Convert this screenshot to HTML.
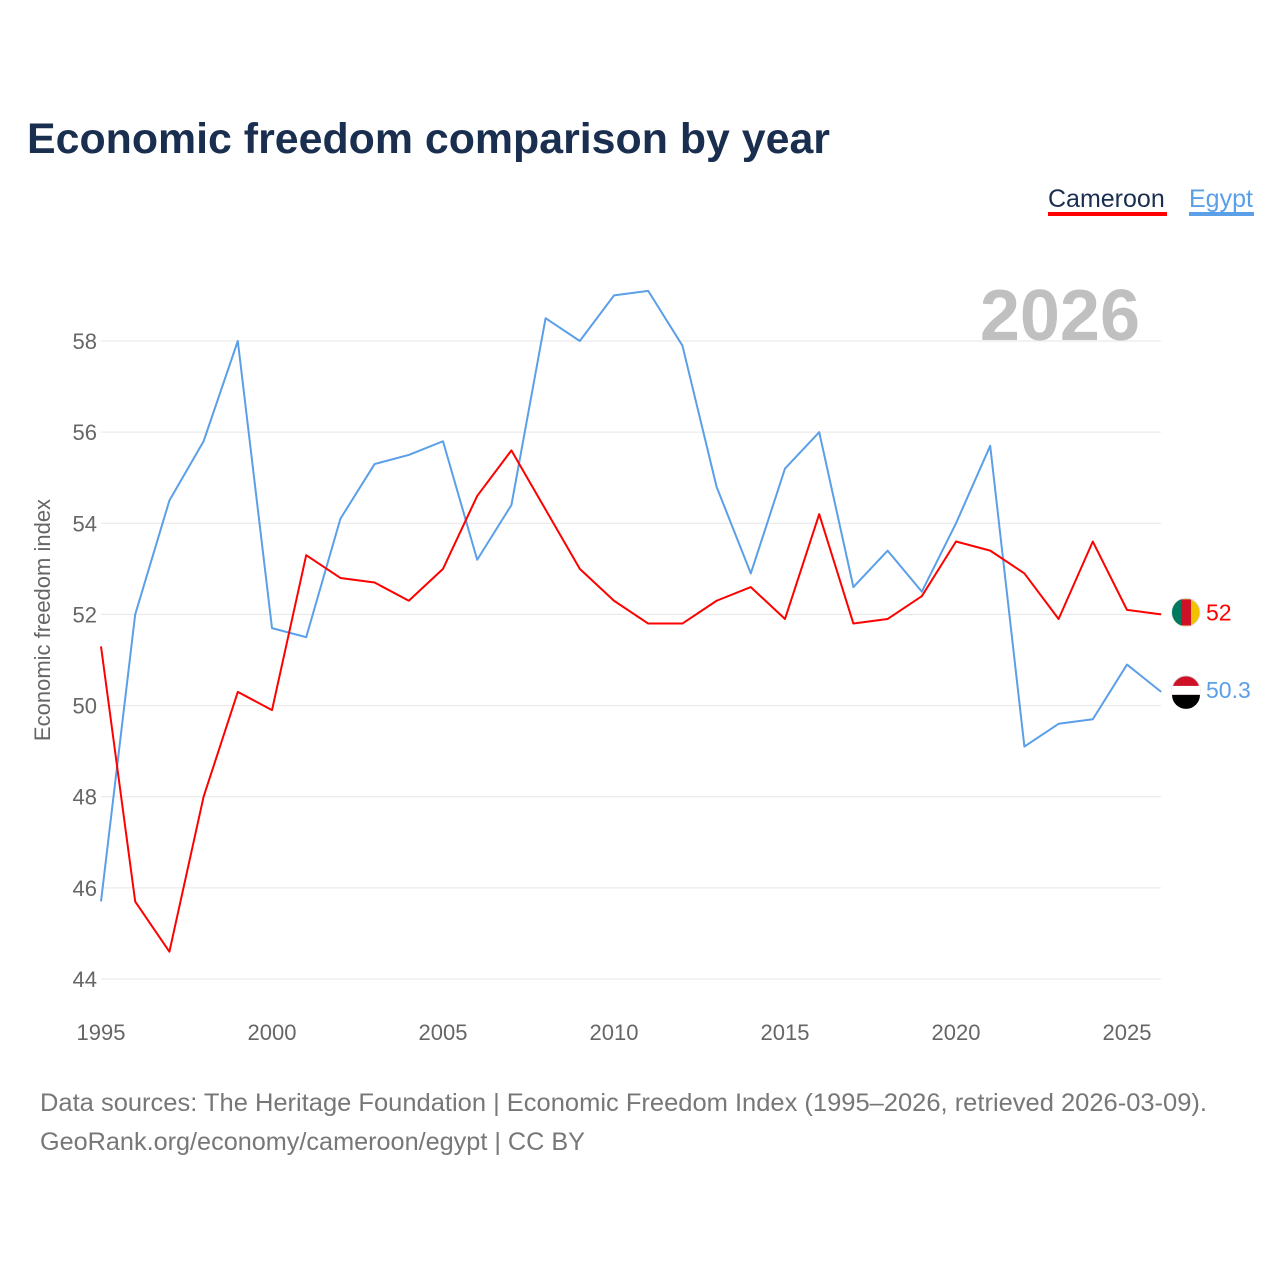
<!DOCTYPE html>
<html><head><meta charset="utf-8">
<style>
body{margin:0;background:#fff;width:1280px;height:1280px;overflow:hidden;font-family:"Liberation Sans",sans-serif;}
</style></head>
<body>
<svg id="chart" width="1280" height="1280" xmlns="http://www.w3.org/2000/svg">
<text x="27" y="153" font-size="43" font-weight="bold" fill="#1a2e4f" textLength="803" lengthAdjust="spacingAndGlyphs">Economic freedom comparison by year</text>
<g>
<text x="1048" y="207" font-size="25" fill="#1a2e4f">Cameroon</text>
<rect x="1048" y="212" width="119" height="4" fill="#ff0000"></rect>
<text x="1189" y="207" font-size="25" fill="#5a9fe8">Egypt</text>
<rect x="1189" y="212" width="65" height="4" fill="#5a9fe8"></rect>
</g>
<text x="1140" y="340" font-size="72" font-weight="bold" fill="#c0c0c0" text-anchor="end">2026</text>
<text transform="translate(50,620) rotate(-90)" font-size="22" fill="#666" text-anchor="middle">Economic freedom index</text>
<g id="grid"></g><g id="xt"></g><g id="lines"></g>
<text x="40" y="1111" font-size="25" fill="#777" textLength="1167" lengthAdjust="spacingAndGlyphs">Data sources: The Heritage Foundation | Economic Freedom Index (1995–2026, retrieved 2026-03-09).</text>
<text x="40" y="1150" font-size="25" fill="#777" textLength="545" lengthAdjust="spacingAndGlyphs">GeoRank.org/economy/cameroon/egypt | CC BY</text>
</svg>
<script>
const years=[1995,1996,1997,1998,1999,2000,2001,2002,2003,2004,2005,2006,2007,2008,2009,2010,2011,2012,2013,2014,2015,2016,2017,2018,2019,2020,2021,2022,2023,2024,2025,2026];
const cameroon=[51.3,45.7,44.6,48.0,50.3,49.9,53.3,52.8,52.7,52.3,53.0,54.6,55.6,54.3,53.0,52.3,51.8,51.8,52.3,52.6,51.9,54.2,51.8,51.9,52.4,53.6,53.4,52.9,51.9,53.6,52.1,52.0];
const egypt=[45.7,52.0,54.5,55.8,58.0,51.7,51.5,54.1,55.3,55.5,55.8,53.2,54.4,58.5,58.0,59.0,59.1,57.9,54.8,52.9,55.2,56.0,52.6,53.4,52.5,54.0,55.7,49.1,49.6,49.7,50.9,50.3];
const yTicks=[44,46,48,50,52,54,56,58];
const xTicks=[1995,2000,2005,2010,2015,2020,2025];
const NS="http://www.w3.org/2000/svg";
const X=y=>101+(y-1995)*(1127-101)/30;
const Y=v=>979-(v-44)*(979-341)/14;
function mk(t,a,p){const e=document.createElementNS(NS,t);for(const k in a)e.setAttribute(k,a[k]);p.appendChild(e);return e;}
const grid=document.getElementById('grid');
yTicks.forEach(v=>{
 const l=mk('line',{x1:101,x2:1161,y1:Y(v),y2:Y(v),stroke:'#e6e6e6','stroke-width':1},grid);
 
 
 const t=mk('text',{x:97,y:Y(v)+8,'font-size':22,fill:'#666','text-anchor':'end'},grid);t.textContent=v;
 
 
});
const xt=document.getElementById('xt');
xTicks.forEach(v=>{
 const t=mk('text',{x:X(v),y:1040,'font-size':22,fill:'#666','text-anchor':'middle'},xt);t.textContent=v;
 
 
});
const lines=document.getElementById('lines');
function series(vals,col,name,lab){
 const p=mk('polyline',{points:vals.map((v,i)=>X(years[i])+','+Y(v)).join(' '),fill:'none',stroke:col,'stroke-width':2,'stroke-linejoin':'round'},lines);
 
 
 const last=vals[vals.length-1],cy=Y(last)-2;
 const c=mk('circle',{cx:1186,cy:cy,r:14,fill:col==='#ff0000'?'#f2c200':'#ce1126',stroke:'#ddd'},lines);
 
 
 if(col==='#ff0000'){mk('path',{d:`M1172,${cy} A14,14 0 0 1 1181,${cy-13} L1181,${cy+13} A14,14 0 0 1 1172,${cy}Z`,fill:'#007a5e'},lines);mk('rect',{x:1181,y:cy-13,width:10,height:26,fill:'#ce1126'},lines);}
 else{mk('rect',{x:1172,y:cy-4,width:28,height:9,fill:'#fff'},lines);mk('path',{d:`M1172,${cy+5} L1200,${cy+5} A14,14 0 0 1 1172,${cy+5}Z`,fill:'#000'},lines);}
 const t=mk('text',{x:1206,y:cy+8,'font-size':23,fill:col},lines);t.textContent=lab;
 
 
}
series(egypt,'#5a9fe8','egypt','50.3');
series(cameroon,'#ff0000','cameroon','52');
</script>
</body></html>
